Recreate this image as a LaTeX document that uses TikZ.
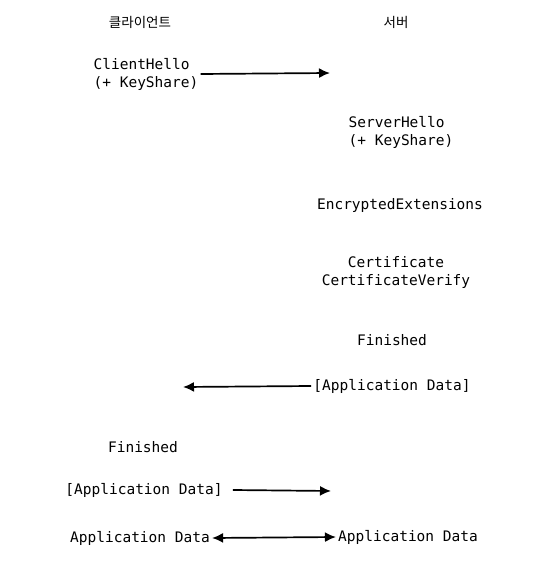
\documentclass[tikz,border=0pt]{standalone}
\usepackage{fontspec}
\setmonofont{DejaVu Sans Mono}
\newfontfamily\kofont{Noto Sans CJK KR}
\usetikzlibrary{arrows.meta,positioning}
\tikzstyle{every node}=[inner sep=2pt]
\tikzstyle{side}=[font=\kofont\fontsize{13.5}{15}\selectfont]
\tikzstyle{msg}=[font=\ttfamily\fontsize{14.5}{18}\selectfont,align=center]
\tikzstyle{flow}=[draw,line width=1.7pt,-{Latex[length=11pt,width=10pt]}]
\tikzstyle{both}=[draw,line width=1.7pt,{Latex[length=11pt,width=10pt]}-{Latex[length=11pt,width=10pt]}]

\begin{document}
\begin{tikzpicture}[x=1pt,y=-1pt]
  \useasboundingbox (0,0) rectangle (532,561);
  % the two sides
  \node[side] (cli) at (140,22) {클라이언트};
  \node[side] (srv) at (396,22) {서버};

  % handshake
  \node[msg,align=left] (ch)  at (146,74)  {ClientHello\\(+ KeyShare)};
  \node[msg,align=left] (sh)  at (401,132) {ServerHello\\(+ KeyShare)};
  \node[msg]            (ee)  at (400,205) {EncryptedExtensions};
  \node[msg]            (cert) at (396,272) {Certificate\\CertificateVerify};
  \node[msg]            (sfin) at (392,340) {Finished};
  \node[msg]            (sad) at (392,386) {[Application Data]};
  \node[msg]            (cfin) at (143,447) {Finished};
  \node[msg]            (cad) at (144,490) {[Application Data]};
  \node[msg]            (cap) at (140,538) {Application Data};
  \node[msg]            (sap) at (408,537) {Application Data};

  \coordinate (a1) at (330,73);
  \coordinate (a2) at (183,387);
  \coordinate (a3) at (331,491);

  \path[flow] (ch.east) -- (a1);
  \path[flow] (sad.west) -- (a2);
  \path[flow] ([xshift=8pt]cad.east) -- (a3);
  \path[both] (cap.east) -- (sap.west);
\end{tikzpicture}
\end{document}
